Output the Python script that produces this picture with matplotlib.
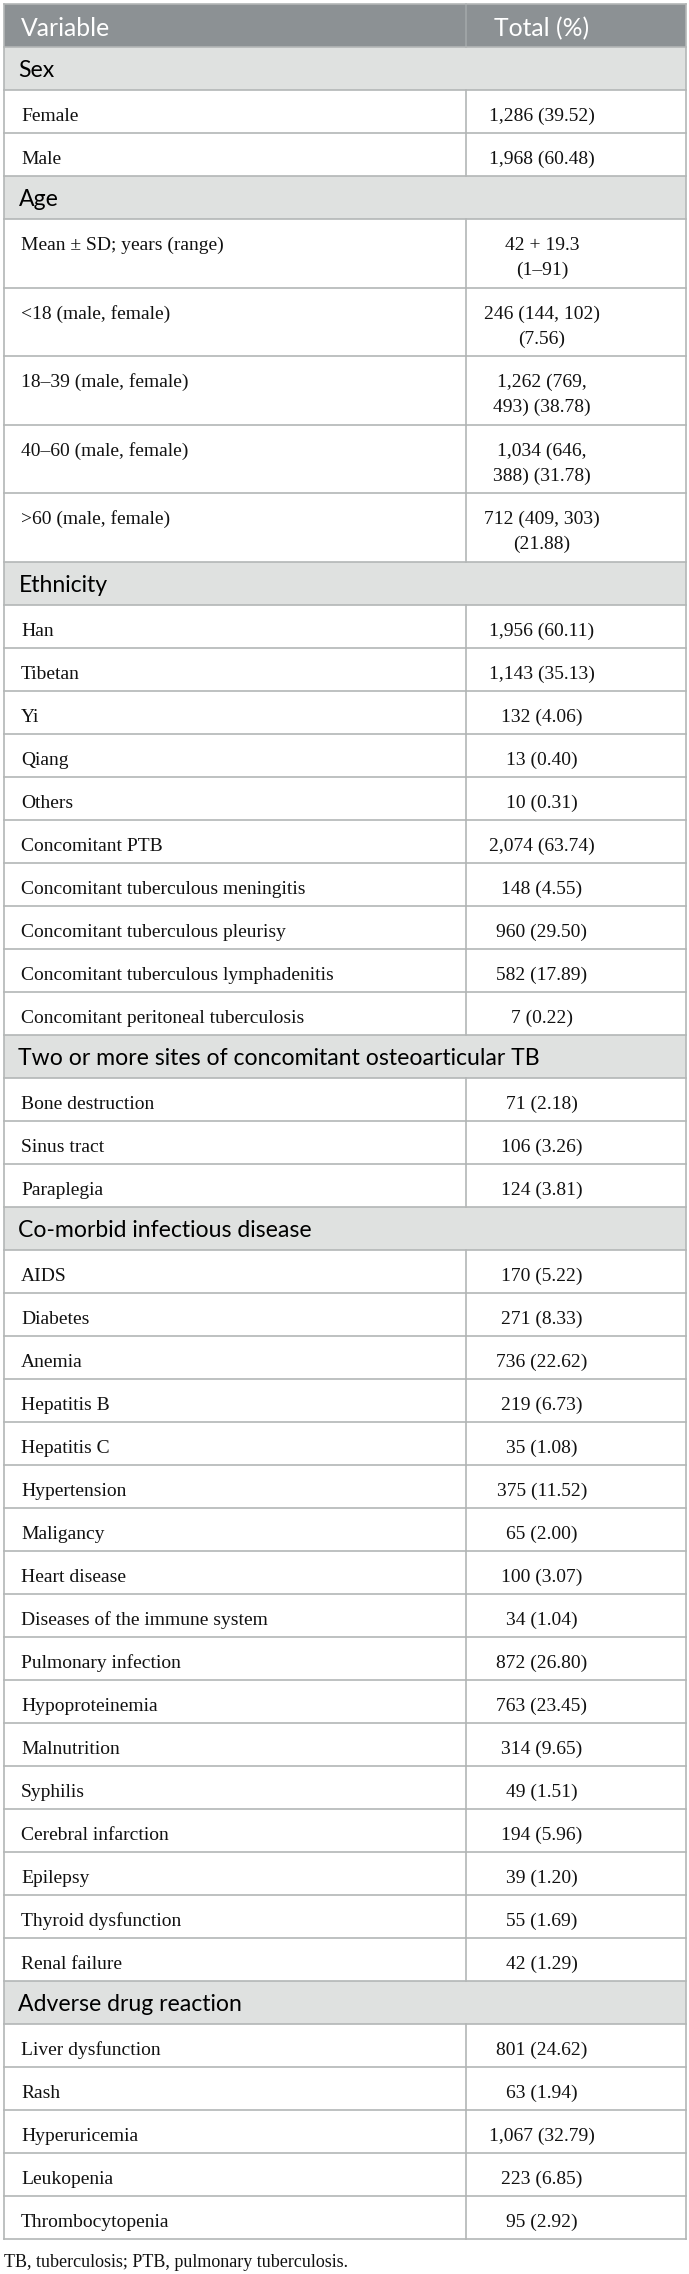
import matplotlib
matplotlib.use("Agg")
from matplotlib import pyplot as plt
from matplotlib.patches import Rectangle

col_headers = ["Variable", "Total (%)"]

sex_labels = ["Female", "Male"]
sex_values = ["1,286 (39.52)", "1,968 (60.48)"]

age_labels = ["Mean ± SD; years (range)", "<18 (male, female)", "18–39 (male, female)",
              "40–60 (male, female)", ">60 (male, female)"]
age_values = ["42 + 19.3\n(1–91)", "246 (144, 102)\n(7.56)", "1,262 (769,\n493) (38.78)",
              "1,034 (646,\n388) (31.78)", "712 (409, 303)\n(21.88)"]

ethnicity_labels = ["Han", "Tibetan", "Yi", "Qiang", "Others", "Concomitant PTB",
                    "Concomitant tuberculous meningitis", "Concomitant tuberculous pleurisy",
                    "Concomitant tuberculous lymphadenitis", "Concomitant peritoneal tuberculosis"]
ethnicity_values = ["1,956 (60.11)", "1,143 (35.13)", "132 (4.06)", "13 (0.40)", "10 (0.31)",
                    "2,074 (63.74)", "148 (4.55)", "960 (29.50)", "582 (17.89)", "7 (0.22)"]

sites_labels = ["Bone destruction", "Sinus tract", "Paraplegia"]
sites_values = ["71 (2.18)", "106 (3.26)", "124 (3.81)"]

comorbid_labels = ["AIDS", "Diabetes", "Anemia", "Hepatitis B", "Hepatitis C", "Hypertension",
                   "Maligancy", "Heart disease", "Diseases of the immune system",
                   "Pulmonary infection", "Hypoproteinemia", "Malnutrition", "Syphilis",
                   "Cerebral infarction", "Epilepsy", "Thyroid dysfunction", "Renal failure"]
comorbid_values = ["170 (5.22)", "271 (8.33)", "736 (22.62)", "219 (6.73)", "35 (1.08)",
                   "375 (11.52)", "65 (2.00)", "100 (3.07)", "34 (1.04)", "872 (26.80)",
                   "763 (23.45)", "314 (9.65)", "49 (1.51)", "194 (5.96)", "39 (1.20)",
                   "55 (1.69)", "42 (1.29)"]

adr_labels = ["Liver dysfunction", "Rash", "Hyperuricemia", "Leukopenia", "Thrombocytopenia"]
adr_values = ["801 (24.62)", "63 (1.94)", "1,067 (32.79)", "223 (6.85)", "95 (2.92)"]

footnote = "TB, tuberculosis; PTB, pulmonary tuberculosis."

sections = [
    ("Sex", sex_labels, sex_values),
    ("Age", age_labels, age_values),
    ("Ethnicity", ethnicity_labels, ethnicity_values),
    ("Two or more sites of concomitant osteoarticular TB", sites_labels, sites_values),
    ("Co-morbid infectious disease", comorbid_labels, comorbid_values),
    ("Adverse drug reaction", adr_labels, adr_values),
]

# layout in pixels
W, H = 689, 2274
top, left, right, divider = 4, 3.5, 686, 466
row_h, row_h2 = 43.0, 68.6
line_gap = 25
val_x = 542

header_bg = "#8c9194"
section_bg = "#dfe1e0"
grid_col = "#b3b6b6"
text_col = "#111111"
sans = "Lato"
serif = "Liberation Serif"
lw = 1.2

fig = plt.figure(figsize=(W / 100, H / 100), dpi=100)
ax = fig.add_axes([0, 0, 1, 1])
ax.set_xlim(0, W)
ax.set_ylim(H, 0)
ax.axis("off")

y = top
# column header
ax.add_patch(Rectangle((left, y), right - left, row_h, facecolor=header_bg, edgecolor="none"))
ax.plot([divider, divider], [y, y + row_h], color="#a2a7a9", lw=lw)
ax.text(21, y + 32, col_headers[0], fontsize=17.8, family=sans, color="white", va="baseline")
ax.text(val_x, y + 32, col_headers[1], fontsize=17.8, family=sans, color="white",
        va="baseline", ha="center")
y += row_h
hlines = [top, y]

for title, labels, values in sections:
    ax.add_patch(Rectangle((left, y), right - left, row_h, facecolor=section_bg, edgecolor="none"))
    ax.text(18.5, y + 30, title, fontsize=16.6, family=sans, color="black", va="baseline")
    y += row_h
    hlines.append(y)
    for lab, val in zip(labels, values):
        lines = val.split("\n")
        h = row_h if len(lines) == 1 else row_h2
        ax.text(21, y + 31, lab, fontsize=14, family=serif, color=text_col, va="baseline")
        for i, ln in enumerate(lines):
            ax.text(val_x, y + 31 + i * line_gap, ln, fontsize=14, family=serif,
                    color=text_col, va="baseline", ha="center")
        ax.plot([divider, divider], [y, y + h], color=grid_col, lw=lw)
        y += h
        hlines.append(y)

for yy in hlines:
    ax.plot([left, right], [yy, yy], color=grid_col, lw=lw)
ax.plot([left, left], [top, y], color=grid_col, lw=lw)
ax.plot([right, right], [top, y], color=grid_col, lw=lw)

ax.text(4, y + 28, footnote, fontsize=13, family=serif, color=text_col, va="baseline")

fig.savefig("out.png", dpi=100)
